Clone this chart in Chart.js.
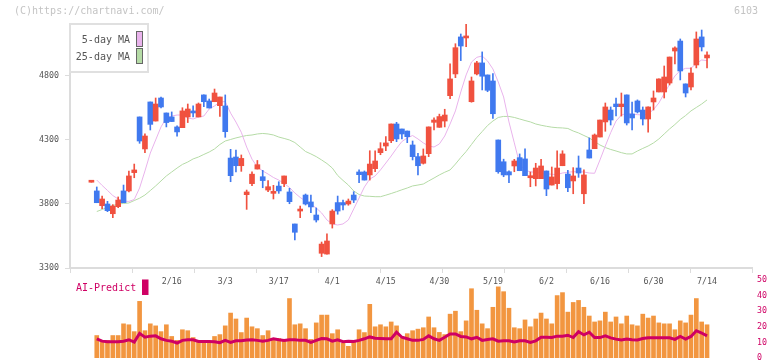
<!DOCTYPE html>
<html>
<head>
<meta charset="utf-8">
<title>6103</title>
<script src="https://cdn.jsdelivr.net/npm/chart.js@4.4.1/dist/chart.umd.min.js"></script>
<style>
    html, body { margin: 0; padding: 0; background: #fff; overflow: hidden; }
    #wrap { position: relative; width: 772px; height: 361px; }
    #main { position: absolute; left: 0; top: 0; width: 772px; height: 300px; }
    #sub { position: absolute; left: 0; top: 270px; width: 772px; height: 100px; }
    .note { position: absolute; top: 5px; font: 10px "DejaVu Sans Mono", monospace; color: #c4c4c4; }
</style>
</head>
<body>
<div id="wrap">
    <canvas id="main" width="772" height="300"></canvas>
    <canvas id="sub" width="772" height="100"></canvas>
    <div class="note" style="left:14px">(C)https://chartnavi.com/</div>
    <div class="note" style="left:734px">6103</div>
</div>
<script>
// Daily candles (index 0 = oldest)
const open = [3970,3902,3787,3800,3724,3779,3902,3902,4045,4480,4230,4597,4448,4628,4511,4480,4402,4396,4480,4527,
    4480,4652,4605,4599,4568,4566,4159,4167,4099,3873,3959,4073,4013,3909,3883,3940,3959,3894,3644,3745,
    3870,3816,3714,3415,3409,3644,3811,3811,3800,3870,4050,4050,4027,4076,4201,4253,4294,4425,4386,4370,
    4261,4170,4118,4193,4438,4399,4448,4646,4816,5105,5097,4599,4816,4902,4808,4761,4300,4130,4052,4097,
    4162,4152,4005,3998,3998,4058,3948,3959,4099,4034,3980,4081,3880,4222,4232,4323,4441,4534,4581,4560,
    4652,4503,4605,4534,4464,4597,4675,4675,4745,4995,5073,4738,4714,4886,5105,4941];
const high = [3970,3933,3862,3821,3795,3855,3948,4058,4112,4480,4349,4597,4628,4636,4511,4519,4410,4552,4581,4566,
    4589,4652,4620,4698,4636,4652,4227,4222,4183,3909,4052,4140,4063,3982,3946,3974,4019,3923,3644,3784,
    3878,3870,3769,3503,3566,3756,3862,3831,3839,3896,4066,4058,4216,4216,4279,4326,4425,4438,4386,4370,
    4292,4196,4230,4402,4474,4502,4540,4894,5052,5128,5209,4792,4915,4988,4808,4818,4300,4150,4060,4149,
    4191,4230,4050,4118,4149,4058,4089,4216,4216,4063,4084,4175,4066,4316,4347,4456,4589,4558,4628,4667,
    4652,4597,4613,4558,4558,4683,4777,4878,4948,5027,5089,4738,4863,5144,5159,4988];
const low = [3970,3810,3763,3740,3693,3771,3810,3894,4005,4274,4201,4378,4448,4550,4402,4444,4329,4396,4436,4480,
    4480,4560,4550,4599,4484,4321,3974,4050,4055,3758,3943,4073,3927,3896,3839,3883,3935,3802,3519,3693,
    3792,3732,3659,3389,3409,3612,3720,3753,3790,3811,3967,3987,3987,4052,4185,4216,4279,4287,4308,4279,
    4144,4027,4112,4170,4378,4399,4402,4623,4787,4920,5029,4595,4808,4691,4677,4469,4040,4013,3966,4052,
    4060,4021,3935,3941,3998,3865,3948,3917,4099,3896,3880,4008,3802,4159,4232,4323,4368,4417,4487,4487,
    4417,4378,4511,4417,4362,4534,4675,4628,4730,4894,4769,4636,4691,4863,4995,4863];
const close = [3970,3810,3839,3748,3784,3831,3810,4019,4066,4292,4331,4422,4581,4558,4436,4444,4363,4527,4542,4511,
    4581,4599,4550,4667,4636,4365,4021,4099,4156,3894,4033,4107,3983,3935,3896,3902,4019,3818,3579,3753,
    3800,3777,3675,3487,3511,3745,3745,3792,3823,3831,4029,3987,4112,4136,4232,4277,4425,4308,4347,4326,
    4170,4099,4175,4402,4456,4483,4495,4777,5021,5034,5105,4761,4902,4798,4688,4505,4052,4027,4027,4136,
    4060,4021,4021,4081,4097,3917,4011,4081,4191,3927,4019,4042,4027,4159,4339,4456,4558,4456,4560,4581,
    4433,4472,4519,4464,4558,4628,4777,4792,4948,5019,4839,4667,4823,5089,5027,4964];

// Moving averages
const ma5 = [null,3987,3945,3906,3866,3839,3823,3820,3835,3925,4058,4198,4300,4402,4472,4487,4495,4495,4472,4464,
    4480,4487,4542,4566,4597,4600,4510,4440,4360,4245,4150,4089,4058,4034,4007,3987,3960,3929,3886,3851,
    3823,3796,3769,3730,3675,3644,3636,3644,3675,3761,3847,3933,3995,4019,4066,4120,4175,4234,4288,4316,
    4335,4308,4277,4253,4245,4269,4331,4425,4527,4675,4808,4909,4946,4956,4917,4855,4753,4636,4441,4277,
    4112,4062,4052,4046,4042,4037,4032,4030,4042,4048,4052,4052,4050,4042,4040,4144,4253,4357,4448,4495,
    4508,4503,4498,4495,4503,4538,4589,4663,4734,4800,4843,4860,4860,4898,4925,4920];
const ma25 = [null,3741,3757,3773,3788,3800,3804,3808,3827,3845,3870,3905,3941,3980,4019,4050,4081,4109,4128,4152,
    4167,4187,4206,4230,4265,4292,4304,4316,4326,4335,4339,4347,4351,4347,4339,4323,4312,4300,4280,4245,
    4210,4191,4170,4144,4116,4081,4023,3984,3948,3902,3874,3862,3860,3857,3857,3869,3882,3896,3911,3925,
    3941,3948,3956,3980,4003,4027,4048,4066,4112,4163,4210,4265,4320,4366,4413,4448,4476,4484,4484,4476,
    4464,4452,4441,4425,4415,4407,4400,4396,4394,4390,4370,4355,4335,4316,4288,4261,4241,4226,4214,4201,
    4191,4191,4214,4234,4253,4277,4308,4347,4386,4421,4460,4491,4527,4554,4581,4613];

// Lower panel: volume (hidden scale) and AI-Predict (right axis 0-50)
const volume = [null,14.4,11.3,11.3,14.4,14.4,21.9,21.3,16.9,36.3,17.5,21.9,20.6,16.9,21.3,13.8,11.3,18.1,17.5,13.1,
    11.3,9.4,9.4,13.8,15.0,20.6,28.8,25.0,16.3,25.6,20.0,18.8,14.4,17.5,11.9,12.5,11.3,38.1,21.3,21.9,
    18.8,11.9,22.5,27.5,27.5,15.6,18.1,9.4,7.5,10.6,18.1,16.3,34.4,20.0,21.3,20.0,23.1,20.6,13.1,15.6,
    17.5,18.5,19.4,26.3,19.4,16.4,15.0,28.1,30.0,16.9,23.8,44.4,30.6,21.9,18.8,32.5,45.6,42.5,31.9,19.4,
    18.8,24.4,20.0,25.0,28.8,25.0,21.9,40.0,41.9,29.4,35.6,36.9,32.5,26.9,23.1,23.8,29.4,23.1,26.3,21.9,
    26.9,21.3,20.6,28.1,25.6,26.9,22.5,21.9,21.9,18.1,23.8,22.5,27.5,38.1,23.1,21.3];
const aiPredict = [null,12.3,10.8,10.4,10.4,10.4,10.8,11.7,10.2,15.8,13.3,14.0,14.2,12.3,11.3,10.8,9.6,11.3,11.7,11.7,
    10.6,10.6,10.6,10.4,9.8,11.3,10.0,11.0,11.0,11.5,11.7,11.3,10.8,11.3,12.3,11.7,11.3,11.7,11.7,11.3,
    11.3,10.0,11.3,12.5,12.3,10.8,11.7,10.4,10.8,10.6,11.3,12.3,13.5,12.7,12.5,12.3,12.3,16.5,13.3,12.3,
    11.3,11.3,11.9,14.2,12.3,11.3,13.3,15.4,15.4,13.8,13.5,12.3,13.3,11.3,11.9,12.3,10.8,11.0,11.0,10.2,
    11.0,11.0,10.0,11.0,13.3,13.3,13.1,14.0,14.0,14.6,13.1,16.9,14.8,16.5,13.1,13.1,14.2,12.9,12.1,11.5,
    12.1,11.7,11.5,12.5,12.9,12.9,12.9,12.9,12.9,11.9,13.8,12.1,13.8,17.5,16.0,14.2];

// Axis ticks and date labels
const priceTicks = [3300, 3800, 4300, 4800];
const aiTicks = [0, 10, 20, 30, 40, 50];
const dateLabels = ['2/16','3/3','3/17','4/1','4/15','4/30','5/19','6/2','6/16','6/30','7/14'];
const dateLabelIdx = [15, 25, 35, 45, 55, 65, 75, 85, 95, 105, 115];

// Styles
const FONT = '"DejaVu Sans Mono", monospace';
const UP = '#f0513f';
const DOWN = '#4079ef';
const MA5_COLOR = '#e9b3ec';
const MA25_COLOR = '#b5dba6';
const VOL_COLOR = '#f29640';
const AI_COLOR = '#cf0064';
const AXIS = '#dcdcdc';
const X_MIN = -4, X_MAX = 123.4;
const Y_MIN = 3300, Y_MAX = 5206;

const candleColor = (ctx) => close[ctx.dataIndex] >= open[ctx.dataIndex] ? UP : DOWN;
const xy = (arr) => arr.map((v, i) => ({ x: i, y: v }));

// Legend frame for the moving averages (box on the right of the text)
const maLegend = {
    id: 'maLegend',
    afterDraw(chart) {
        const { ctx, chartArea } = chart;
        const left = chartArea.left, top = chartArea.top;
        const items = chart.data.datasets.filter(d => d.type === 'line');
        ctx.save();
        ctx.fillStyle = '#fff';
        ctx.fillRect(left, top, 78, 48);
        ctx.strokeStyle = '#e0e0e0';
        ctx.lineWidth = 2;
        ctx.strokeRect(left, top, 78, 48);
        ctx.font = '10px ' + FONT;
        ctx.textAlign = 'right';
        ctx.textBaseline = 'middle';
        items.forEach((d, k) => {
            const cy = top + 16 + k * 17;
            ctx.fillStyle = '#555';
            ctx.fillText(d.label, left + 60, cy);
            ctx.fillStyle = d.borderColor;
            ctx.fillRect(left + 66.5, cy - 8.5, 6, 15);
            ctx.strokeStyle = '#666';
            ctx.lineWidth = 1;
            ctx.strokeRect(left + 66.5, cy - 8.5, 6, 15);
        });
        ctx.restore();
    }
};

// Label for the lower panel
const aiLegend = {
    id: 'aiLegend',
    afterDraw(chart) {
        const { ctx, chartArea } = chart;
        const d = chart.data.datasets[0];
        ctx.save();
        ctx.font = '10px ' + FONT;
        ctx.textAlign = 'left';
        ctx.textBaseline = 'middle';
        ctx.fillStyle = d.borderColor;
        ctx.fillText(d.label, 76, chartArea.top + 8);
        ctx.fillRect(142, chartArea.top - 0.5, 6.5, 15.5);
        ctx.restore();
    }
};

// Price chart
const mainChart = new Chart(document.getElementById('main'), {
    data: {
        datasets: [
            { type: 'line', label: '5-day MA', data: xy(ma5), borderColor: MA5_COLOR, borderWidth: 1, pointRadius: 0, order: 3 },
            { type: 'line', label: '25-day MA', data: xy(ma25), borderColor: MA25_COLOR, borderWidth: 1, pointRadius: 0, order: 3 },
            { type: 'bar', label: 'range', data: low.map((v, i) => ({ x: i, y: [v, high[i]] })),
              backgroundColor: candleColor, barThickness: 1, grouped: false, order: 1 },
            { type: 'bar', label: 'body', data: open.map((v, i) => ({ x: i, y: [v, close[i]] })),
              backgroundColor: candleColor, barThickness: 5, minBarLength: 2, grouped: false, order: 0 }
        ]
    },
    options: {
        responsive: false,
        animation: false,
        devicePixelRatio: 1,
        layout: { padding: { top: 24, right: 20, left: 0, bottom: 0 } },
        plugins: { legend: { display: false }, tooltip: { enabled: false } },
        scales: {
            x: {
                type: 'linear', min: X_MIN, max: X_MAX, offset: false, weight: 0,
                afterBuildTicks: (s) => {
                    // 11 equal divisions along the date axis
                    s.ticks = Array.from({ length: 12 }, (_, k) => ({ value: s.min + k * (s.max - s.min) / 11 }));
                },
                afterFit: (s) => { s.height = 6; },
                ticks: { display: false },
                grid: { drawOnChartArea: false, offset: false, tickLength: 5, color: AXIS },
                border: { color: AXIS, width: 2 }
            },
            xl: {
                type: 'linear', position: 'bottom', min: X_MIN, max: X_MAX, offset: false, weight: 1,
                afterBuildTicks: (s) => { s.ticks = dateLabelIdx.map(v => ({ value: v })); },
                afterFit: (s) => { s.height = 26; },
                ticks: { callback: (v, i) => dateLabels[i], autoSkip: false, maxRotation: 0, padding: 3,
                         font: { family: FONT, size: 8.3 }, color: '#555' },
                grid: { display: false, drawTicks: false },
                border: { display: false }
            },
            y: {
                min: Y_MIN, max: Y_MAX,
                afterBuildTicks: (s) => { s.ticks = priceTicks.map(v => ({ value: v })); },
                afterFit: (s) => { s.width = 70; },
                ticks: { padding: 6, callback: (v) => String(v), font: { family: FONT, size: 8.3 }, color: '#555' },
                grid: { drawOnChartArea: false, tickLength: 5, color: AXIS },
                border: { color: AXIS, width: 2 }
            }
        }
    },
    plugins: [maLegend]
});

// Volume + AI-Predict panel
const subChart = new Chart(document.getElementById('sub'), {
    data: {
        datasets: [
            { type: 'line', label: 'AI-Predict', data: xy(aiPredict), yAxisID: 'ya', borderColor: AI_COLOR,
              borderWidth: 3, pointRadius: 0, order: 0 },
            { type: 'bar', label: 'volume', data: xy(volume), yAxisID: 'yv', backgroundColor: VOL_COLOR,
              barThickness: 4, grouped: false, order: 1 }
        ]
    },
    options: {
        responsive: false,
        animation: false,
        devicePixelRatio: 1,
        layout: { padding: { top: 8, right: 0, left: 70, bottom: 12 } },
        plugins: { legend: { display: false }, tooltip: { enabled: false } },
        scales: {
            x: { type: 'linear', min: X_MIN, max: X_MAX, offset: false, display: false },
            yv: { min: 0, max: 50, display: false },
            ya: {
                position: 'right', min: 0, max: 50,
                afterBuildTicks: (s) => { s.ticks = aiTicks.map(v => ({ value: v })); },
                afterFit: (s) => { s.width = 20; },
                ticks: { padding: 5, font: { family: FONT, size: 8.3 }, color: AI_COLOR },
                grid: { display: false, drawTicks: false },
                border: { display: false }
            }
        }
    },
    plugins: [aiLegend]
});
</script>
</body>
</html>
